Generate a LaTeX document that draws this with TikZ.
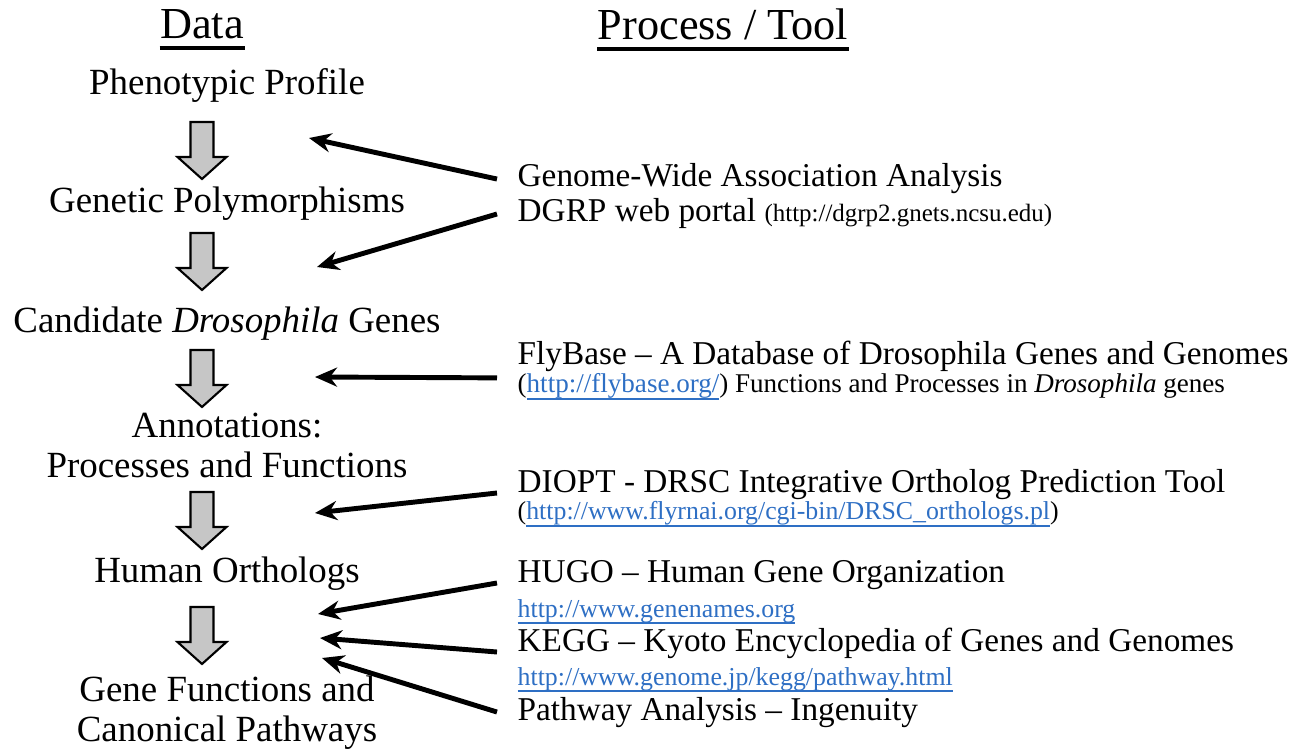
\documentclass[tikz,border=0pt]{standalone}
\usepackage{fontspec}
\setmainfont{Liberation Serif}
\usetikzlibrary{arrows.meta}
\definecolor{linkblue}{HTML}{2E6FC4}
\newcommand{\weblink}[1]{\begingroup\color{linkblue}\setbox0\hbox{#1}\rlap{\rule[-2pt]{\wd0}{0.5pt}}\box0\endgroup}

\begin{document}
\begin{tikzpicture}[
  head/.style={font=\fontsize{12.6}{15}\selectfont, anchor=base, inner xsep=0pt},
  datatext/.style={font=\fontsize{10.5}{11.4}\selectfont, align=center, anchor=base},
  tooltext/.style={font=\fontsize{9.47}{11}\selectfont, anchor=base west, inner xsep=2mm, inner ysep=0.5mm},
  urltext/.style={tooltext, font=\fontsize{7.35}{9}\selectfont},
  blockarrow/.style={fill=gray!45, draw=black, line width=0.6pt},
  toolarrow/.style={-{Stealth[length=2.2mm,width=1.9mm]}, line width=1.4pt}
]
  \useasboundingbox (0,0) rectangle (13.01,7.5);

  % Column headings
  \node[head] (data) at (2.02,7.11) {Data};
  \node[head] (proc) at (7.23,7.10) {Process / Tool};
  \foreach \n in {data,proc} {
    \draw[line width=0.9pt] ([yshift=-0.09cm]\n.base west) -- ([yshift=-0.09cm]\n.base east);
  }

  % Left column - data (two-line nodes sit on their last line)
  \node[datatext] (pheno) at (2.27,6.55) {Phenotypic Profile};
  \node[datatext] (poly) at (2.27,5.37) {Genetic Polymorphisms};
  \node[datatext] (cand) at (2.27,4.17) {Candidate \textit{Drosophila} Genes};
  \node[datatext] (annot) at (2.27,2.72) {Annotations:\\Processes and Functions};
  \node[datatext] (ortho) at (2.27,1.68) {Human Orthologs};
  \node[datatext] (func) at (2.27,0.08) {Gene Functions and\\Canonical Pathways};

  % Gray step arrows between the data
  \foreach \t in {6.28,5.17,4.00,2.58,1.43} {
    \draw[blockarrow] (1.905,\t) -- (2.135,\t) -- (2.135,\t-0.35) -- (2.265,\t-0.35)
      -- (2.02,\t-0.57) -- (1.775,\t-0.35) -- (1.905,\t-0.35) -- cycle;
  }

  % Right column - tools
  \node[tooltext] (gwas) at (4.97,5.63) {Genome-Wide Association Analysis};
  \node[tooltext] (dgrp) at (4.97,5.28) {DGRP web portal {\fontsize{7.1}{9}\selectfont (http://dgrp2.gnets.ncsu.edu)}};
  \node[tooltext] (flybase) at (4.97,3.85) {FlyBase -- A Database of Drosophila Genes and Genomes};
  \node[urltext, font=\fontsize{7.7}{9}\selectfont] (flyurl) at (4.97,3.57) {(\weblink{http://flybase.org/}) Functions and Processes in \textit{Drosophila} genes};
  \node[tooltext] (diopt) at (4.97,2.57) {DIOPT - DRSC Integrative Ortholog Prediction Tool};
  \node[urltext] (diopturl) at (4.97,2.30) {(\weblink{http://www.flyrnai.org/cgi-bin/DRSC\_orthologs.pl})};
  \node[tooltext] (hugo) at (4.97,1.67) {HUGO -- Human Gene Organization};
  \node[urltext] (hugourl) at (4.97,1.33) {\weblink{http://www.genenames.org}};
  \node[tooltext] (kegg) at (4.97,0.98) {KEGG -- Kyoto Encyclopedia of Genes and Genomes};
  \node[urltext] (keggurl) at (4.97,0.65) {\weblink{http://www.genome.jp/kegg/pathway.html}};
  \node[tooltext] (ingen) at (4.97,0.30) {Pathway Analysis -- Ingenuity};

  % Where the tool arrows point
  \coordinate (gwas-tip) at (3.09,6.12);
  \coordinate (dgrp-tip) at (3.17,4.83);
  \coordinate (flybase-tip) at (3.15,3.73);
  \coordinate (diopt-tip) at (3.15,2.37);
  \coordinate (hugo-tip) at (3.18,1.36);
  \coordinate (kegg-tip) at (3.20,1.12);
  \coordinate (ingen-tip) at (3.22,0.92);

  % Tool arrows
  \draw[toolarrow] (gwas.west) -- (gwas-tip);
  \draw[toolarrow] (dgrp.west) -- (dgrp-tip);
  \draw[toolarrow] (flybase.south west) -- (flybase-tip);
  \draw[toolarrow] (diopt.base west) -- (diopt-tip);
  \draw[toolarrow] (hugo.base west) -- (hugo-tip);
  \draw[toolarrow] (kegg.base west) -- (kegg-tip);
  \draw[toolarrow] (ingen.west) -- (ingen-tip);
\end{tikzpicture}
\end{document}
